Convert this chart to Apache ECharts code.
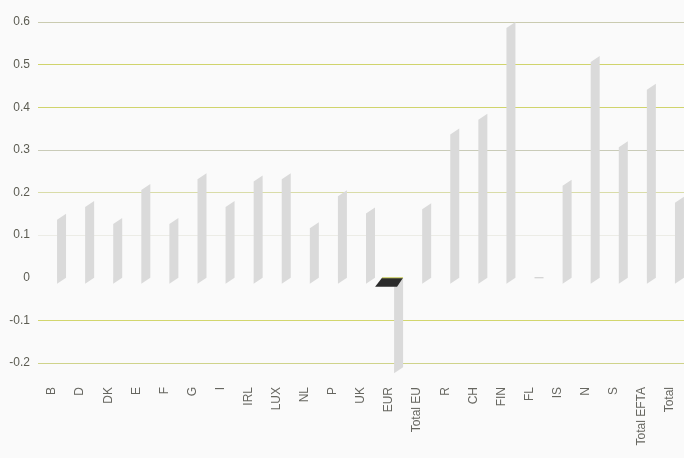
<!DOCTYPE html>
<html>
<head>
<meta charset="utf-8">
<script src="https://cdn.jsdelivr.net/npm/echarts@6/dist/echarts.min.js"></script>
<style>
  html, body { margin: 0; padding: 0; background: #fafafa; }
  #chart { width: 684px; height: 458px; }
</style>
</head>
<body>
<div id="chart"></div>
<script>
// Country codes along the x axis
const categories = ['B', 'D', 'DK', 'E', 'F', 'G', 'I', 'IRL', 'LUX', 'NL', 'P', 'UK', 'EUR',
  'Total EU', 'R', 'CH', 'FIN', 'FL', 'IS', 'N', 'S', 'Total EFTA', 'Total'];

// One value per country
const values = [0.15, 0.18, 0.14, 0.22, 0.14, 0.245, 0.18, 0.24, 0.245, 0.13, 0.205, 0.165, -0.21,
  0.175, 0.35, 0.385, 0.60, 0.0, 0.23, 0.52, 0.32, 0.455, 0.19];

// Value axis ticks
const yMin = -0.2, yMax = 0.6, yStep = 0.1;

const chart = echarts.init(document.getElementById('chart'), null, { renderer: 'canvas' });

// Each bar is drawn as the thin side face of a slab, leaning back to the right
function renderSlab(params, api) {
  const i = api.value(0);
  const v = api.value(1);
  const base = api.coord([i, 0]);
  const top = api.coord([i, v]);
  const x0 = base[0] + 5;
  const x1 = base[0] + 14;
  const slant = 6;
  const children = [];
  if (v === 0) {
    children.push({
      type: 'line',
      shape: { x1: x0, y1: base[1], x2: x1, y2: base[1] },
      style: { stroke: '#c8c8c8', lineWidth: 1 }
    });
  } else {
    children.push({
      type: 'polygon',
      shape: { points: [[x0, base[1] + slant], [x0, top[1] + slant], [x1, top[1]], [x1, base[1]]] },
      style: { fill: '#dadada' }
    });
  }
  if (v < 0) {
    // dark top face of a bar hanging below zero
    children.push({
      type: 'polygon',
      shape: { points: [[x1 - 21, base[1]], [x1, base[1]], [x1 - 6, base[1] + 9], [x1 - 28, base[1] + 9]] },
      style: { fill: '#2b2b2b' }
    });
    children.push({
      type: 'line',
      shape: { x1: x1 - 21, y1: base[1], x2: x1, y2: base[1] },
      style: { stroke: '#d6da6a', lineWidth: 1 }
    });
  }
  return { type: 'group', children };
}

chart.setOption({
  backgroundColor: '#fafafa',
  animation: false,
  grid: { left: 38, top: 22, width: 648, height: 341, containLabel: false },
  xAxis: {
    type: 'category',
    data: categories,
    axisLine: { show: false },
    axisTick: { show: false },
    axisLabel: {
      rotate: 90,
      margin: 24,
      interval: 0,
      fontFamily: 'Liberation Sans, Arial, sans-serif',
      fontSize: 12,
      color: '#666660'
    }
  },
  yAxis: {
    type: 'value',
    min: yMin,
    max: yMax,
    interval: yStep,
    axisLine: { show: false },
    axisTick: { show: false },
    axisLabel: {
      margin: 8,
      fontFamily: 'Liberation Sans, Arial, sans-serif',
      fontSize: 12,
      color: '#5c5c52',
      formatter: v => (Math.abs(v) < 1e-9 ? '0' : (+v.toFixed(1)).toString())
    },
    splitLine: {
      show: true,
      lineStyle: {
        width: 1,
        // -0.2, -0.1, 0, 0.1, 0.2, 0.3, 0.4, 0.5, 0.6
        color: ['#cfd38a', '#d2d66e', 'rgba(0,0,0,0)', '#ecece6', '#d9dca8',
                '#c9cbb8', '#d0d46c', '#d0d46c', '#cacbb0']
      }
    }
  },
  series: [{
    type: 'custom',
    renderItem: renderSlab,
    data: values.map((v, i) => [i, v]),
    encode: { x: 0, y: 1 },
    z: 3
  }]
});
</script>
</body>
</html>
